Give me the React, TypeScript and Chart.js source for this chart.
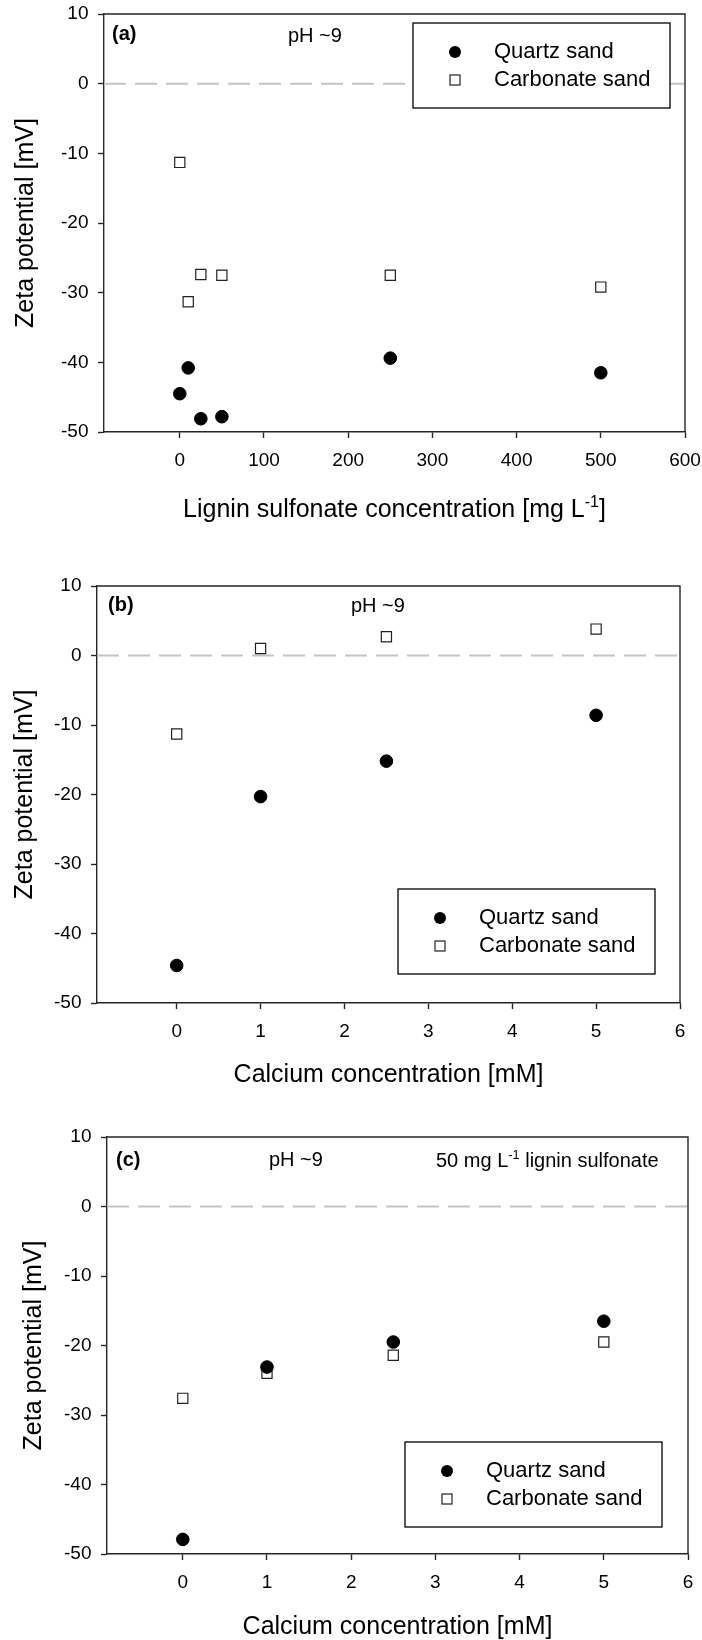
import React, { useEffect, useRef } from 'react';
import { Chart, registerables } from 'chart.js';

Chart.register(...registerables);

// ---------------- data ----------------
const SERIES_NAMES = ['Quartz sand', 'Carbonate sand'];

// Panel (a): lignin sulfonate concentration [mg/L]
const LIGNIN_X = [0, 10, 25, 50, 250, 500];
const QUARTZ_A = [-44.5, -40.8, -48.1, -47.8, -39.4, -41.5];
const CARBONATE_A = [-11.3, -31.3, -27.4, -27.5, -27.5, -29.2];

// Panels (b) and (c): calcium concentration [mM]
const CALCIUM_X = [0, 1, 2.5, 5];
const QUARTZ_B = [-44.6, -20.3, -15.2, -8.6];
const CARBONATE_B = [-11.3, 1.0, 2.7, 3.8];
const QUARTZ_C = [-47.9, -23.1, -19.5, -16.5];
const CARBONATE_C = [-27.6, -24.0, -21.4, -19.5];

const X_TICKS_A = [0, 100, 200, 300, 400, 500, 600];
const X_TICKS_BC = [0, 1, 2, 3, 4, 5, 6];
const Y_TICKS = [-50, -40, -30, -20, -10, 0, 10];

const Y_TITLE = 'Zeta potential [mV]';
const X_TITLE_A = [{ text: 'Lignin sulfonate concentration [mg L' }, { text: '-1', sup: true }, { text: ']' }];
const X_TITLE_BC = [{ text: 'Calcium concentration [mM]' }];
const NOTE_PH = 'pH ~9';
const NOTE_LS = [{ text: '50 mg L' }, { text: '-1', sup: true }, { text: ' lignin sulfonate' }];

// ---------------- styling ----------------
const FONT = '"Liberation Sans", Arial, Helvetica, sans-serif';
const AXIS_COLOR = '#262626';
const AXIS_W = 1.4;

type Seg = { text: string; sup?: boolean; bold?: boolean };

function drawRich(ctx: CanvasRenderingContext2D, segs: Seg[], x: number, y: number, size: number, align: 'left' | 'center') {
  const parts = segs.map((s) => {
    const fs = s.sup ? size * 0.64 : size;
    const font = `${s.bold ? 'bold ' : ''}${fs}px ${FONT}`;
    ctx.font = font;
    return { s, font, w: ctx.measureText(s.text).width };
  });
  const total = parts.reduce((a, p) => a + p.w, 0);
  let cx = align === 'center' ? x - total / 2 : x;
  const base = y + size * 0.27;
  ctx.textBaseline = 'alphabetic';
  ctx.textAlign = 'left';
  for (const p of parts) {
    ctx.font = p.font;
    ctx.fillText(p.s.text, cx, p.s.sup ? base - size * 0.4 : base);
    cx += p.w;
  }
}

interface Note { x: number; y: number; segs: Seg[]; }
interface PanelCfg {
  top: number; height: number;
  padTop: number; padRight: number; yAxisW: number; xAxisH: number;
  xMin: number; xMax: number; xTicks: number[];
  xs: number[]; quartz: number[]; carbonate: number[];
  yTitlePad: number;
  xTitle: Seg[]; xTitleDy: number;
  notes: Note[];
  legend: { x: number; y: number };
}

function makeDecor(cfg: PanelCfg) {
  return {
    id: 'decor',
    afterDraw(chart: any) {
      const { ctx, chartArea: ca } = chart;
      ctx.save();
      ctx.strokeStyle = AXIS_COLOR;
      ctx.lineWidth = AXIS_W;
      ctx.beginPath();
      ctx.moveTo(ca.left, ca.top);
      ctx.lineTo(ca.right, ca.top);
      ctx.lineTo(ca.right, ca.bottom);
      ctx.stroke();
      ctx.fillStyle = '#000';
      for (const n of cfg.notes) drawRich(ctx, n.segs, ca.left + n.x, ca.top + n.y, 20, 'left');
      drawRich(ctx, cfg.xTitle, (ca.left + ca.right) / 2, ca.bottom + cfg.xTitleDy, 25, 'center');
      const bx = ca.left + cfg.legend.x;
      const by = ca.top + cfg.legend.y;
      const bw = 257, bh = 85;
      ctx.fillStyle = '#fff';
      ctx.fillRect(bx, by, bw, bh);
      ctx.strokeStyle = '#000';
      ctx.lineWidth = 1.3;
      ctx.strokeRect(bx, by, bw, bh);
      const symX = bx + 42;
      const textX = bx + 81;
      const rows = [by + 29, by + 57];
      ctx.fillStyle = '#000';
      ctx.beginPath();
      ctx.arc(symX, rows[0], 6, 0, Math.PI * 2);
      ctx.fill();
      ctx.fillStyle = '#fff';
      ctx.fillRect(symX - 5, rows[1] - 5, 10, 10);
      ctx.strokeStyle = '#222';
      ctx.lineWidth = 1.2;
      ctx.strokeRect(symX - 5, rows[1] - 5, 10, 10);
      ctx.fillStyle = '#000';
      drawRich(ctx, [{ text: SERIES_NAMES[0] }], textX, rows[0], 22, 'left');
      drawRich(ctx, [{ text: SERIES_NAMES[1] }], textX, rows[1], 22, 'left');
      ctx.restore();
    },
  };
}

const PANELS: PanelCfg[] = [
  {
    top: 0, height: 547, padTop: 14, padRight: 17, yAxisW: 104, xAxisH: 115,
    xMin: -90, xMax: 600, xTicks: X_TICKS_A,
    xs: LIGNIN_X, quartz: QUARTZ_A, carbonate: CARBONATE_A,
    yTitlePad: 11, xTitle: X_TITLE_A, xTitleDy: 78,
    notes: [
      { x: 8, y: 21, segs: [{ text: '(a)', bold: true }] },
      { x: 184, y: 23, segs: [{ text: NOTE_PH }] },
    ],
    legend: { x: 309, y: 9 },
  },
  {
    top: 547, height: 547, padTop: 39, padRight: 22, yAxisW: 97, xAxisH: 91,
    xMin: -0.95, xMax: 6, xTicks: X_TICKS_BC,
    xs: CALCIUM_X, quartz: QUARTZ_B, carbonate: CARBONATE_B,
    yTitlePad: 10, xTitle: X_TITLE_BC, xTitleDy: 72,
    notes: [
      { x: 11, y: 20, segs: [{ text: '(b)', bold: true }] },
      { x: 254, y: 21, segs: [{ text: NOTE_PH }] },
    ],
    legend: { x: 301, y: 303 },
  },
  {
    top: 1094, height: 546, padTop: 43, padRight: 14, yAxisW: 107, xAxisH: 86,
    xMin: -0.9, xMax: 6, xTicks: X_TICKS_BC,
    xs: CALCIUM_X, quartz: QUARTZ_C, carbonate: CARBONATE_C,
    yTitlePad: 19, xTitle: X_TITLE_BC, xTitleDy: 73,
    notes: [
      { x: 9, y: 24, segs: [{ text: '(c)', bold: true }] },
      { x: 162, y: 24, segs: [{ text: NOTE_PH }] },
      { x: 329, y: 25, segs: NOTE_LS },
    ],
    legend: { x: 298, y: 305 },
  },
];

function Panel({ cfg }: { cfg: PanelCfg }) {
  const ref = useRef<HTMLCanvasElement>(null);
  useEffect(() => {
    const tickFont = { family: FONT, size: 19 };
    const grid = { drawOnChartArea: false, tickLength: 6, tickColor: AXIS_COLOR, tickWidth: AXIS_W, color: AXIS_COLOR };
    const border = { color: AXIS_COLOR, width: AXIS_W };
    const chart = new Chart(ref.current as HTMLCanvasElement, {
      type: 'scatter',
      data: {
        datasets: [
          {
            label: SERIES_NAMES[0],
            data: cfg.xs.map((x, i) => ({ x, y: cfg.quartz[i] })),
            pointStyle: 'circle', pointRadius: 6.3,
            backgroundColor: '#000', borderColor: '#000', borderWidth: 1,
            showLine: false,
          },
          {
            label: SERIES_NAMES[1],
            data: cfg.xs.map((x, i) => ({ x, y: cfg.carbonate[i] })),
            pointStyle: 'rect', pointRadius: 7.2,
            backgroundColor: '#fff', borderColor: '#222', borderWidth: 1.2,
            showLine: false,
          },
          {
            label: 'zero',
            data: [{ x: cfg.xMin, y: 0 }, { x: cfg.xMax, y: 0 }],
            showLine: true, pointRadius: 0,
            borderColor: '#c4c4c4', borderWidth: 2, borderDash: [22, 9],
          },
        ],
      } as any,
      options: {
        animation: false,
        responsive: false,
        devicePixelRatio: 1,
        events: [],
        layout: { padding: { left: 0, top: cfg.padTop, right: cfg.padRight, bottom: 0 } },
        plugins: { legend: { display: false }, tooltip: { enabled: false } },
        scales: {
          x: {
            type: 'linear', min: cfg.xMin, max: cfg.xMax,
            afterBuildTicks: (s: any) => { s.ticks = cfg.xTicks.map((v) => ({ value: v })); },
            afterFit: (s: any) => { s.height = cfg.xAxisH; s.paddingLeft = 0; s.paddingRight = 0; },
            ticks: { font: tickFont, color: '#000', padding: 11, maxRotation: 0, autoSkip: false },
            grid, border,
          },
          y: {
            type: 'linear', min: -50, max: 10,
            afterBuildTicks: (s: any) => { s.ticks = Y_TICKS.map((v) => ({ value: v })); },
            afterFit: (s: any) => { s.width = cfg.yAxisW; s.paddingTop = 0; s.paddingBottom = 0; },
            ticks: { font: tickFont, color: '#000', padding: 9.5, autoSkip: false },
            grid, border,
            title: {
              display: true, text: Y_TITLE, color: '#000',
              font: { family: FONT, size: 25 },
              padding: { top: cfg.yTitlePad, bottom: 0 },
            },
          },
        },
      } as any,
      plugins: [makeDecor(cfg)],
    });
    return () => chart.destroy();
  }, []);
  return (
    <canvas
      ref={ref}
      width={702}
      height={cfg.height}
      style={{ position: 'absolute', left: 0, top: cfg.top, width: 702, height: cfg.height }}
    />
  );
}

export default function App() {
  return (
    <div style={{ position: 'absolute', left: 0, top: 0, width: 702, height: 1640, background: '#fff', overflow: 'hidden' }}>
      {PANELS.map((p, i) => (
        <Panel key={i} cfg={p} />
      ))}
    </div>
  );
}
